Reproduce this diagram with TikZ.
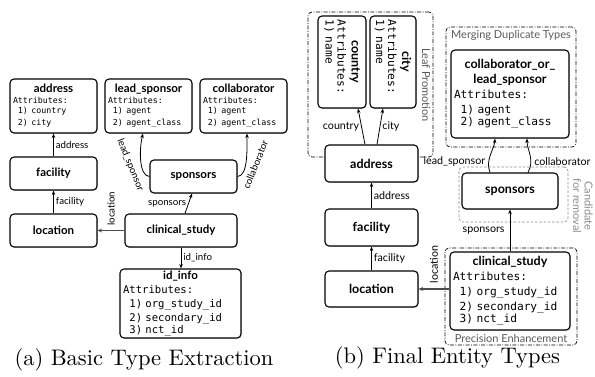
\documentclass[tikz,border=0pt]{standalone}
\usepackage{fontspec}
\usetikzlibrary{arrows.meta,shadows}
\newfontfamily\gill{Lato}
\newfontfamily\monof{DejaVu Sans Mono}
\newfontfamily\capfont{lmroman10-regular}[Extension=.otf]
\newcommand\ctr[1]{\leavevmode\hskip0pt plus1filll\relax#1\hskip0pt plus1filll\null}
\newcommand\ind{\hphantom{0}}
\newcommand\tA{\gill\bfseries\fontsize{11.5}{12}\selectfont}
\newcommand\tB{\gill\bfseries\fontsize{12.5}{15}\selectfont}
\newcommand\mA{\monof\mdseries\fontsize{8.3}{10.5}\selectfont}
\newcommand\mB{\monof\mdseries\fontsize{10.6}{14}\selectfont}
\newcommand\mC{\monof\mdseries\fontsize{11.2}{15}\selectfont}
\newcommand\mD{\monof\mdseries\fontsize{11.2}{14}\selectfont}
\newcommand\lA{\gill\fontsize{9.7}{11}\selectfont}
\newcommand\lB{\gill\fontsize{10.7}{12}\selectfont}
\newcommand\gL{\gill\fontsize{11}{11.5}\selectfont}
\newcommand\capf{\capfont\fontsize{22.5}{26}\selectfont}
\definecolor{grouptext}{gray}{0.35}
\definecolor{candgray}{gray}{0.55}
\tikzset{
  ebox/.style={draw, line width=1.1pt, rounded corners=4pt, fill=white, inner sep=0pt,
    drop shadow={shadow xshift=0.9pt, shadow yshift=-0.9pt, opacity=0.3}},
  pbox/.style={ebox, font=\tA},
  abox/.style={ebox, align=left, inner xsep=3pt, inner ysep=0pt},
  grp/.style={draw, line width=0.7pt, rounded corners=4pt,
    dash pattern=on 4pt off 1.5pt on 0.8pt off 1.5pt},
  candbox/.style={draw=candgray, line width=0.7pt, rounded corners=4pt,
    dash pattern=on 2.5pt off 1.8pt},
  glab/.style={font=\gL, text=grouptext, inner sep=0pt},
  clab/.style={font=\gL, text=candgray, inner sep=0pt},
  arr/.style={-{Stealth[length=4.5pt,width=3.5pt]}, line width=0.8pt},
  tarr/.style={-{Stealth[length=4.5pt,width=4pt]}, line width=1.6pt, draw=black!70},
  elA/.style={font=\lA, inner sep=2pt},
  elB/.style={font=\lB, inner sep=2pt},
}
\begin{document}
\begin{tikzpicture}[x=1pt,y=-1pt]
\useasboundingbox (0,0) rectangle (595,377);

% ---------- groups (right panel) ----------
\node[grp, minimum width=125pt, minimum height=145pt] (leafg) at (370.5,84.5) {};
\node[grp, minimum width=130pt, minimum height=120pt] (mergeg) at (511,87) {};
\node[grp, minimum width=132pt, minimum height=97pt] (precg) at (511,296.5) {};
\node[candbox, minimum width=109pt, minimum height=55pt] (candg) at (513.5,194.5) {};
\node[glab, rotate=-90] (leafl) at (426,85) {Leaf Promotion};
\node[glab] (mergel) at (511,35) {Merging Duplicate Types};
\node[glab] (precl) at (511,338) {Precision Enhancement};
\node[clab, rotate=-90, align=center] (candl) at (583,206) {Candidate\\for removal};

% ---------- left panel ----------
\node[abox, minimum width=87pt, minimum height=54pt, text width=81pt] (addr1) at (53.5,106)
  {\ctr{\tA address}\\ \mA Attributes:\\ \ind1) country\\ \ind2) city};
\node[abox, minimum width=87pt, minimum height=54pt, text width=81pt] (lead1) at (148.5,106)
  {\ctr{\tA lead\_sponsor}\\ \mA Attributes:\\ \ind1) agent\\ \ind2) agent\_class};
\node[abox, minimum width=87pt, minimum height=54pt, text width=81pt] (coll1) at (243.5,106)
  {\ctr{\tA collaborator}\\ \mA Attributes:\\ \ind1) agent\\ \ind2) agent\_class};
\node[pbox, minimum width=87pt, minimum height=33pt] (fac1) at (53.5,173.5) {facility};
\node[pbox, minimum width=87pt, minimum height=33pt] (spon1) at (193.5,176.5) {sponsors};
\node[pbox, minimum width=87pt, minimum height=33pt] (loc1) at (53.5,230.5) {location};
\node[pbox, minimum width=112pt, minimum height=33pt] (cs1) at (181,230.5) {clinical\_study};
\node[abox, minimum width=121pt, minimum height=69pt, text width=115pt] (id1) at (180.5,303.5)
  {\ctr{\tA id\_info}\\ \mB Attributes:\\ \ind1) org\_study\_id\\ \ind2) secondary\_id\\ \ind3) nct\_id};

\draw[arr] (fac1) -- (addr1) node[midway, right, elA] {address};
\draw[arr] (loc1) -- (fac1) node[midway, right, elA] {facility};
\draw[tarr] (cs1.west) -- (loc1.east)
  node[midway, elA, rotate=90, anchor=west, inner sep=4pt] {location};
\draw[arr] ([xshift=4pt]cs1.north) -- ([xshift=-1.5pt]spon1.south)
  node[midway, left, elA] {sponsors};
\draw[arr] (spon1.west) .. controls (139,176) and (139,150) .. ([xshift=-5.5pt]lead1.south)
  node[pos=0.5, elA, rotate=-68, anchor=north, inner sep=6.5pt] {lead\_sponsor};
\draw[arr] (spon1.east) .. controls (248,176) and (247,150) .. ([xshift=3.5pt]coll1.south)
  node[pos=0.5, elA, rotate=68, anchor=north, inner sep=6pt] {collaborator};
\draw[arr] (cs1.south) -- (cs1.south |- id1.north) node[midway, right, elA] {id\_info};

% ---------- right panel ----------
\node[abox, rotate=-90, minimum width=92pt, minimum height=48pt, text width=84pt, inner xsep=4pt] (country2) at (342,62)
  {\ctr{\tB country}\\ \mD Attributes:\\ 1) name};
\node[abox, rotate=-90, minimum width=92pt, minimum height=46pt, text width=84pt, inner xsep=4pt] (city2) at (393,62)
  {\ctr{\tB city}\\ \mD Attributes:\\ 1) name};
\node[pbox, font=\tB, minimum width=93pt, minimum height=37pt] (addr2) at (371.5,163.5) {address};
\node[pbox, font=\tB, minimum width=93pt, minimum height=37pt] (fac2) at (371.5,227.5) {facility};
\node[pbox, font=\tB, minimum width=93pt, minimum height=36pt] (loc2) at (371.5,289) {location};
\node[abox, minimum width=120pt, minimum height=78pt, text width=114pt] (cs2) at (510,291)
  {\ctr{\tB clinical\_study}\\ \mC Attributes:\\ \ind1) org\_study\_id\\ \ind2) secondary\_id\\ \ind3) nct\_id};
\node[abox, minimum width=118pt, minimum height=88pt, text width=112pt] (merged) at (510,94)
  {\ctr{\tB collaborator\_or\_}\\ \ctr{\tB lead\_sponsor}\\ \mC Attributes:\\ \ind1) agent\\ \ind2) agent\_class};
\node[pbox, font=\tB, minimum width=96pt, minimum height=36pt] (spon2) at (510,191) {sponsors};

\draw[arr] ([xshift=-6.5pt]addr2.north) -- ([xshift=16pt]country2.east)
  node[midway, left, elB] {country};
\draw[arr] ([xshift=5.5pt]addr2.north) -- ([xshift=-10pt]city2.east)
  node[midway, right, elB] {city};
\draw[arr] (fac2) -- (addr2) node[midway, right, elB] {address};
\draw[arr] (loc2) -- (fac2) node[midway, right, elB] {facility};
\draw[tarr] (cs2.west |- loc2.east) -- (loc2.east)
  node[midway, elB, rotate=90, anchor=west, inner sep=5pt] {location};
\draw[arr] (cs2.north) -- (spon2.south) node[midway, left, elB, inner sep=5pt] {sponsors};
\draw[arr] ([xshift=-20pt]spon2.north) .. controls (485,160) and (494,150) .. ([xshift=-15pt]merged.south)
  node[pos=0.3, left, elB, inner sep=3pt] {lead\_sponsor};
\draw[arr] ([xshift=18pt]spon2.north) .. controls (535,160) and (527,150) .. ([xshift=17pt]merged.south)
  node[pos=0.3, right, elB, inner sep=3pt] {collaborator};

% ---------- captions ----------
\node[font=\capf, inner sep=0pt] (capA) at (144,360) {(a) Basic Type Extraction};
\node[font=\capf, inner sep=0pt] (capB) at (447.5,358) {(b) Final Entity Types};
\end{tikzpicture}
\end{document}
